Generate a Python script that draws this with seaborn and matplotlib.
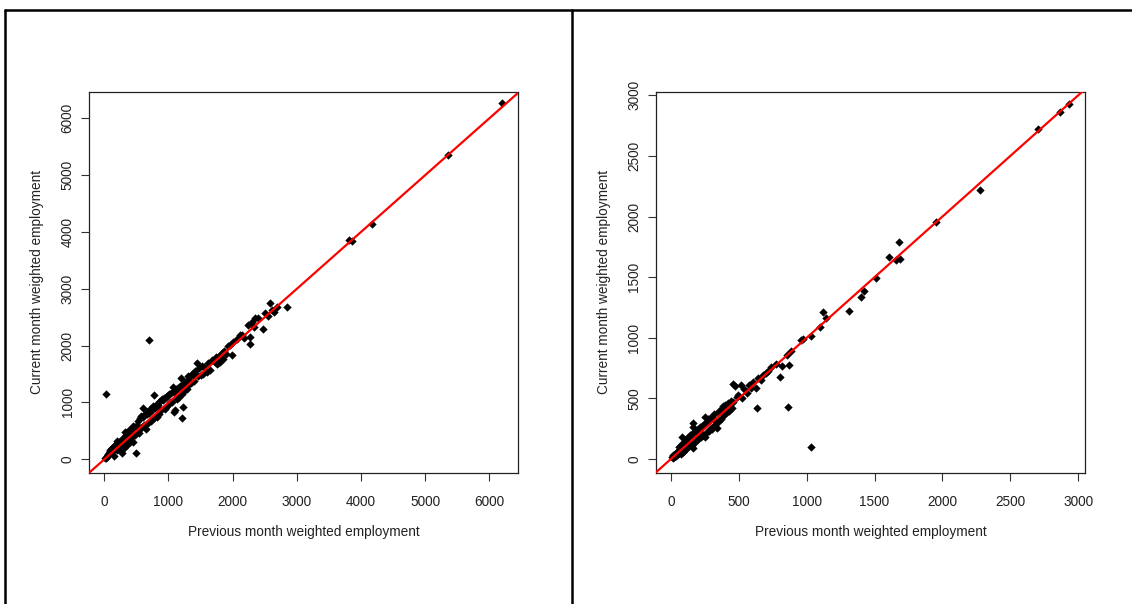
import matplotlib
matplotlib.use("Agg")
import matplotlib.pyplot as plt
from matplotlib.lines import Line2D
import seaborn as sns
import pandas as pd

# ---------------- data ----------------
left_prev = [12, 25, 35, 48, 55, 62, 75, 88, 95, 105, 118, 125, 138, 150, 160, 172, 185, 195,
             210, 222, 235, 248, 260, 272, 285, 298, 305, 320, 333, 345, 358, 372, 385, 398,
             410, 425, 438, 450, 465, 478, 490, 505, 494, 271, 27, 701, 775, 598, 453,
             200, 330, 400, 260, 360, 440, 380, 150, 90, 300,
             520, 535, 548, 560, 575, 590, 605, 620, 633, 645, 660, 672, 688, 700, 715, 730,
             742, 755, 770, 785, 800, 815, 830, 845, 858, 870, 885, 898, 912, 925, 940, 955,
             968, 982, 995, 1010, 1025, 1040, 1055, 1066, 1080, 1091, 1102, 1115, 1130, 1145,
             1160, 1175, 1190, 1195, 1206, 1232, 1215, 1230, 1245, 1258, 1270, 1284, 1300,
             1310, 1325, 1340, 1355, 1370, 1387, 1400, 1415, 1440, 1460, 1480, 1500, 1520,
             1543, 1560, 1595, 1620, 1650, 1680, 1725, 1745, 1760, 1775, 1790, 1805, 1829,
             1850, 1870, 1890, 1930, 1960, 1985, 2010, 2060, 2115, 2141, 2180, 2240, 2271,
             2271, 2297, 2330, 2349, 2400, 2468, 2504, 2550, 2582, 2608, 2640, 2686, 2842,
             3820, 3855, 4167, 5361, 6193]
left_curr = [30, 18, 60, 40, 95, 70, 110, 150, 120, 180, 140, 205, 160, 230, 190, 250, 215, 170,
             260, 300, 240, 330, 280, 225, 350, 310, 395, 360, 290, 420, 380, 455, 330, 440,
             520, 470, 400, 500, 560, 430, 540, 600, 105, 105, 1149, 2099, 1131, 897, 309,
             330, 480, 300, 150, 250, 590, 520, 60, 160, 200,
             680, 520, 470, 720, 760, 560, 740, 600, 800, 540, 790, 840, 640, 820, 880, 680,
             860, 930, 720, 900, 950, 740, 960, 1000, 800, 1030, 860, 1060, 1040, 1080, 880, 1100,
             920, 1120, 960, 1150, 1000, 1170, 1010, 1278, 1190, 838, 867, 1230, 1060, 1250,
             1090, 1290, 1425, 1200, 721, 926, 1150, 1330, 1200, 1366, 1260, 1230, 1400,
             1460, 1320, 1470, 1340, 1500, 1483, 1380, 1560, 1689, 1470, 1600, 1480, 1650,
             1500, 1630, 1530, 1700, 1570, 1740, 1718, 1800, 1680, 1690, 1820, 1710, 1865,
             1760, 1900, 1850, 1990, 2006, 1835, 2060, 2120, 2187, 2187, 2140, 2360, 2158,
             2029, 2421, 2330, 2480, 2490, 2293, 2569, 2520, 2745, 2627, 2600, 2686, 2686,
             3860, 3841, 4140, 5355, 6264]

right_prev = [5, 12, 18, 25, 30, 38, 42, 50, 55, 62, 68, 75, 79, 82, 88, 95, 100, 105, 112, 118,
              122, 130, 135, 140, 148, 155, 160, 164, 164, 164, 170, 178, 185, 190, 198, 205,
              212, 220, 228, 235, 242, 250, 252, 258, 265, 272, 280, 288, 295, 300, 305, 313,
              320, 328, 336, 345, 352, 360, 368, 376, 385, 392, 400, 410, 420, 430, 440, 450,
              456, 459, 471, 484, 495, 513, 525, 540, 557, 575, 590, 606, 626, 636, 643, 660,
              680, 700, 717, 740, 773, 803, 815, 852, 864, 871, 884, 960, 974, 1029, 1033,
              1097, 1122, 1146, 1313, 1397, 1421, 1510, 1608, 1660, 1681, 1690, 1956, 2280,
              2705, 2869, 2933,
              60, 110, 145, 200, 240, 275, 330, 380]
right_curr = [15, 5, 30, 20, 45, 28, 60, 40, 70, 50, 110, 40, 178, 120, 60, 140, 70, 150, 85, 170,
              100, 180, 110, 195, 115, 205, 125, 295, 262, 88, 225, 140, 235, 160, 250, 170,
              260, 185, 275, 195, 290, 344, 178, 300, 220, 320, 235, 340, 255, 245, 350, 267,
              370, 280, 253, 390, 310, 400, 330, 420, 435, 360, 445, 385, 465, 400, 480, 420,
              470, 619, 603, 514, 530, 611, 505, 580, 543, 610, 585, 638, 584, 419, 671, 650,
              694, 710, 729, 760, 787, 675, 770, 859, 427, 776, 894, 985, 988, 1018, 95,
              1092, 1211, 1162, 1222, 1340, 1390, 1495, 1666, 1640, 1786, 1650, 1951, 2221,
              2723, 2860, 2931,
              95, 150, 120, 230, 200, 330, 305, 410]

left_ticks = [0, 1000, 2000, 3000, 4000, 5000, 6000]
right_ticks = [0, 500, 1000, 1500, 2000, 2500, 3000]
x_label = "Previous month weighted employment"
y_label = "Current month weighted employment"

# ---------------- figure ----------------
sns.set_theme(style="white")
plt.rcParams["font.family"] = ["Liberation Sans", "DejaVu Sans"]

W, H = 1132, 604
fig = plt.figure(figsize=(W / 100, H / 100), dpi=100)
fig.patch.set_facecolor("white")

def px_axes(l, t, r, b):
    return fig.add_axes([l / W, 1 - b / H, (r - l) / W, (b - t) / H])

ax1 = px_axes(89.3, 91.7, 518.3, 473.3)
ax2 = px_axes(655.7, 91.7, 1085.0, 473.3)

panels = [
    (ax1, left_prev, left_curr, left_ticks, (-234, 6451), (-246, 6468)),
    (ax2, right_prev, right_curr, right_ticks, (-112, 3050), (-118, 3030)),
]

for ax, xs, ys, ticks, xl, yl in panels:
    df = pd.DataFrame({"prev": xs, "curr": ys})
    sns.scatterplot(data=df, x="prev", y="curr", ax=ax, marker="D", color="black",
                    s=18, linewidth=0, zorder=3)
    ax.axline((0, 0), slope=1, color="red", lw=1.6, zorder=4)
    ax.set_xlim(*xl)
    ax.set_ylim(*yl)
    ax.set_xticks(ticks)
    ax.set_yticks(ticks)
    ax.set_xticklabels([str(t) for t in ticks])
    ax.set_yticklabels([str(t) for t in ticks], rotation=90, va="center")
    ax.tick_params(axis="both", which="major", direction="out", length=5.5, width=0.8,
                   color="#333333", labelsize=9.8, labelcolor="#222222",
                   bottom=True, left=True, top=False, right=False)
    ax.tick_params(axis="x", pad=10)
    ax.tick_params(axis="y", pad=5)
    for sp in ax.spines.values():
        sp.set_visible(True)
        sp.set_color("#222222")
        sp.set_linewidth(0.9)
    ax.set_xlabel(x_label, fontsize=9.8, color="#222222")
    ax.set_ylabel(y_label, fontsize=9.8, color="#222222")
    ax.xaxis.label.set_va("center")
    ax.yaxis.label.set_va("center")
    ax.grid(False)

# label positions (axes fraction)
for ax, l, r, ylab_x in [(ax1, 89.3, 518.3, 37.0), (ax2, 655.7, 1085.0, 604.0)]:
    w = r - l
    h = 473.3 - 91.7
    ax.xaxis.set_label_coords(0.5, -(531.7 - 473.3) / h)
    ax.yaxis.set_label_coords(-(l - ylab_x) / w, 0.5)

# outer frame lines
fig.add_artist(Line2D([5.3 / W, 1.0], [1 - 9.5 / H, 1 - 9.5 / H], color="black", lw=1.8,
                      transform=fig.transFigure))
fig.add_artist(Line2D([5.3 / W, 5.3 / W], [0, 1 - 9.5 / H], color="black", lw=1.8,
                      transform=fig.transFigure))
fig.add_artist(Line2D([571.5 / W, 571.5 / W], [0, 1 - 9.5 / H], color="black", lw=1.8,
                      transform=fig.transFigure))

fig.savefig("out.png", dpi=100, facecolor="white")
